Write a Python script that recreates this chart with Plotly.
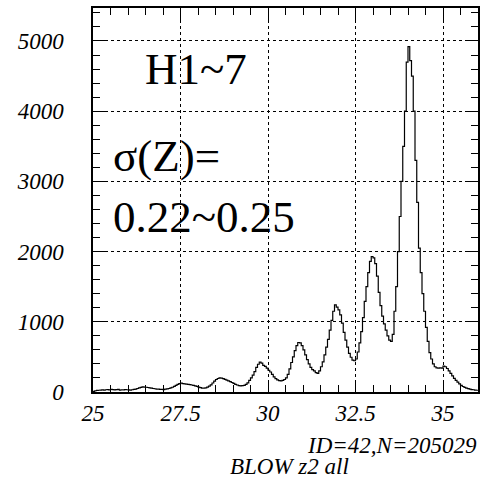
import plotly.graph_objects as go

# Histogram: bins of width 0.05 starting at 25.0
BIN_START = 25.0
BIN_WIDTH = 0.05
COUNTS = [
    # 25.00 - 25.95
    8, 18, 22, 25, 28, 30, 27, 32, 35, 30, 38, 34, 30, 33, 36, 28, 32, 30, 35, 32,
    # 26.00 - 26.95
    30, 28, 32, 36, 42, 50, 58, 66, 72, 70, 68, 64, 60, 55, 50, 46, 42, 40, 36, 38,
    # 27.00 - 27.95
    35, 40, 44, 50, 58, 68, 80, 95, 108, 118, 125, 120, 116, 112, 110, 105, 100, 95, 88, 80,
    # 28.00 - 28.95
    70, 62, 56, 55, 60, 70, 85, 102, 128, 155, 178, 192, 200, 198, 190, 180, 168, 158, 148, 135,
    # 29.00 - 29.95
    122, 110, 100, 92, 88, 90, 95, 108, 130, 165, 200, 240, 290, 350, 395, 425, 410, 380, 365, 340,
    # 30.00 - 30.95
    310, 285, 250, 215, 190, 172, 162, 158, 165, 178, 200, 250, 330, 420, 500, 590, 660, 705, 700, 660,
    # 31.00 - 31.95
    600, 530, 460, 400, 350, 320, 300, 275, 265, 300, 360, 430, 530, 640, 750, 880, 1020, 1150, 1240, 1210,
    # 32.00 - 32.95
    1170, 1100, 980, 850, 740, 640, 550, 495, 455, 445, 470, 570, 700, 860, 1060, 1290, 1500, 1700, 1860, 1930,
    # 33.00 - 33.95
    1910, 1830, 1650, 1420, 1230, 1080, 970, 880, 800, 740, 720, 820, 1150, 1500, 2000, 2500, 3000, 3500, 4000, 4700,
    # 34.00 - 34.95
    4920, 4720, 4500, 4000, 3300, 2700, 2050, 1700, 1400, 1150, 920, 720, 560, 470, 400, 360, 345, 340, 345, 340,
    # 35.00 - 35.95
    370, 360, 335, 300, 265, 230, 195, 165, 140, 115, 95, 78, 65, 55, 47, 40, 35, 32, 28, 25,
]

X_TICKS = [25, 27.5, 30, 32.5, 35]
X_TICK_TEXT = ["25", "27.5", "30", "32.5", "35"]
Y_TICKS = [0, 1000, 2000, 3000, 4000, 5000]
Y_TICK_TEXT = ["0", "1000", "2000", "3000", "4000", "5000"]

TITLE_1 = "H1~7"
TITLE_2 = "σ(Z)="
TITLE_3 = "0.22~0.25"
FOOT_1 = "ID=42,N=205029"
FOOT_2 = "BLOW z2 all"

# step outline: left edges plus final right edge
edges = [BIN_START + i * BIN_WIDTH for i in range(len(COUNTS) + 1)]
ys = COUNTS + [COUNTS[-1]]

SERIF = "Liberation Serif"
PAD = "\u00a0" * 4

fig = go.Figure()
fig.add_trace(go.Scatter(
    x=edges, y=ys, mode="lines", line=dict(color="black", width=1.2, shape="hv"),
    showlegend=False,
))

W, H = 495, 480
L, R, T, B = 93, 17, 6, 88
pw, ph = W - L - R, H - T - B


def px(xp):
    return (xp - L) / pw


def py(yp):
    return (H - B - yp) / ph


axis_common = dict(
    showline=True, linecolor="black", linewidth=1.5, mirror="allticks",
    ticks="inside", ticklen=12, tickwidth=1, tickcolor="black",
    showgrid=True, gridcolor="black", gridwidth=1, griddash="dot",
    zeroline=False,
)

fig.update_layout(
    width=W, height=H,
    margin=dict(l=L, r=R, t=T, b=B),
    plot_bgcolor="white",
    xaxis=dict(
        range=[25, 36], tickvals=X_TICKS, ticktext=[f"<i>{t}</i>" for t in X_TICK_TEXT],
        minor=dict(dtick=0.5, ticks="inside", ticklen=7),
        tickfont=dict(family=SERIF, size=23, color="black"),
        **axis_common,
    ),
    yaxis=dict(
        range=[0, 5470], tickvals=Y_TICKS, ticktext=[f"<i>{t}</i>{PAD}" for t in Y_TICK_TEXT],
        minor=dict(dtick=200, ticks="inside", ticklen=7),
        tickfont=dict(family=SERIF, size=23, color="black"),
        **axis_common,
    ),
    showlegend=False,
)

big = dict(family=SERIF, size=45, color="black")
fig.add_annotation(text=TITLE_1, xref="paper", yref="paper", x=px(143), y=py(67),
                   xanchor="left", yanchor="middle", showarrow=False, font=big)
fig.add_annotation(text=TITLE_2, xref="paper", yref="paper", x=px(111), y=py(155),
                   xanchor="left", yanchor="middle", showarrow=False, font=big)
fig.add_annotation(text=TITLE_3, xref="paper", yref="paper", x=px(111), y=py(216),
                   xanchor="left", yanchor="middle", showarrow=False, font=big)

small = dict(family=SERIF, size=23, color="black")
fig.add_annotation(text=f"<i>{FOOT_1}</i>", xref="paper", yref="paper", x=px(479), y=py(446),
                   xanchor="right", yanchor="middle", showarrow=False, font=small)
fig.add_annotation(text=f"<i>{FOOT_2}</i>", xref="paper", yref="paper", x=px(289), y=py(467),
                   xanchor="center", yanchor="middle", showarrow=False, font=small)

fig.write_html("out.html")
